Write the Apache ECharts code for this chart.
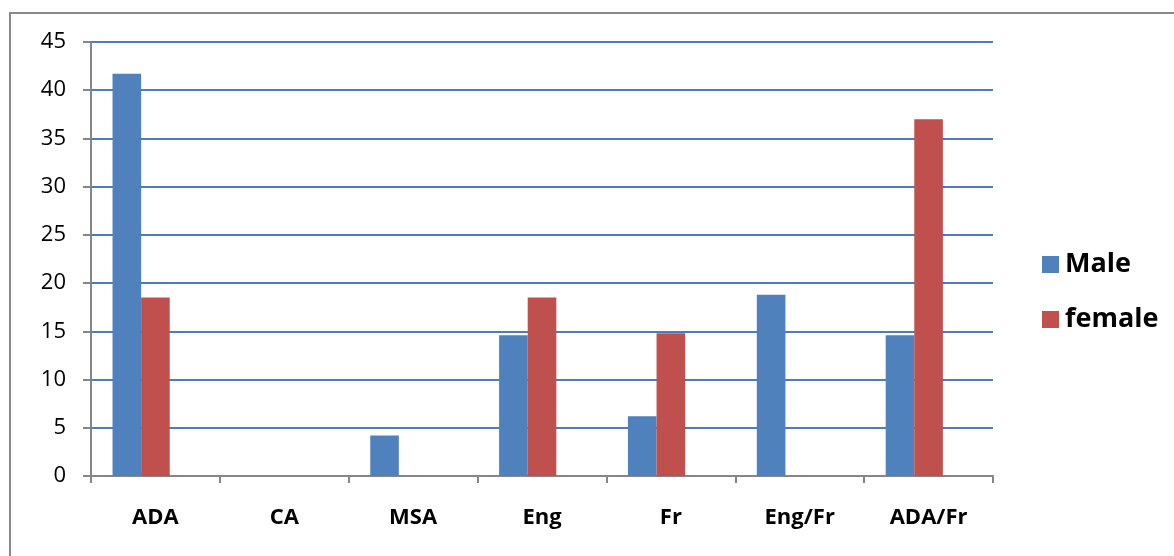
<!DOCTYPE html>
<html>
<head>
<meta charset="utf-8">
<script src="https://cdn.jsdelivr.net/npm/echarts@6/dist/echarts.min.js"></script>
<style>
  html, body { margin: 0; padding: 0; background: #fff; }
  #chart { width: 1174px; height: 556px; }
</style>
</head>
<body>
<div id="chart"></div>
<script>
// Language groups and percentage per gender
const categories = ['ADA', 'CA', 'MSA', 'Eng', 'Fr', 'Eng/Fr', 'ADA/Fr'];
const maleValues = [41.7, 0, 4.2, 14.6, 6.2, 18.8, 14.6];
const femaleValues = [18.5, 0, 0, 18.5, 14.8, 0, 37.0];
// third slot in each group is left empty
const emptySlot = [null, null, null, null, null, null, null];
const yTicks = [0, 5, 10, 15, 20, 25, 30, 35, 40, 45];

const FONT = '"Open Sans", Lato, "Liberation Sans", sans-serif';
const BAR_W = 28.6;

const chart = echarts.init(document.getElementById('chart'), null, { renderer: 'canvas' });

chart.setOption({
  animation: false,
  backgroundColor: '#ffffff',
  graphic: [{
    type: 'rect',
    shape: { x: 10, y: 13, width: 1200, height: 600 },
    style: { fill: 'none', stroke: '#8a8a8a', lineWidth: 2 },
    z: -1
  }],
  grid: { left: 91, right: 181, top: 42, bottom: 80, containLabel: false },
  legend: {
    data: ['Male', 'female'],
    orient: 'vertical',
    left: 1037,
    top: 246,
    icon: 'rect',
    itemWidth: 17,
    itemHeight: 17,
    itemGap: 28,
    textStyle: {
      fontFamily: FONT,
      fontSize: 27,
      fontWeight: 'bold',
      color: '#000',
      lineHeight: 27,
      padding: [0, 0, 0, 1]
    }
  },
  xAxis: {
    type: 'category',
    data: categories,
    boundaryGap: true,
    axisLine: { show: true, lineStyle: { color: '#868686', width: 2 } },
    axisTick: { show: true, inside: false, length: 7, alignWithLabel: false, lineStyle: { color: '#868686', width: 2 } },
    axisLabel: {
      margin: 31,
      fontFamily: FONT,
      fontSize: 22,
      fontWeight: 'bold',
      color: '#000',
      interval: 0
    },
    splitLine: { show: false }
  },
  yAxis: {
    type: 'value',
    min: yTicks[0],
    max: yTicks[yTicks.length - 1],
    interval: 5,
    axisLine: { show: true, lineStyle: { color: '#868686', width: 2 } },
    axisTick: { show: true, inside: false, length: 8, lineStyle: { color: '#868686', width: 2 } },
    axisLabel: {
      margin: 25,
      fontFamily: FONT,
      fontSize: 22,
      color: '#000'
    },
    splitLine: { show: true, lineStyle: { color: '#4a7ebb', width: 1.8 } }
  },
  series: [
    {
      name: 'Male',
      type: 'bar',
      data: maleValues,
      barWidth: BAR_W,
      barGap: '0%',
      itemStyle: { color: '#4f81bd' }
    },
    {
      name: 'female',
      type: 'bar',
      data: femaleValues,
      barWidth: BAR_W,
      barGap: '0%',
      itemStyle: { color: '#c0504d' }
    },
    {
      name: '',
      type: 'bar',
      data: emptySlot,
      barWidth: BAR_W,
      barGap: '0%',
      itemStyle: { color: 'transparent' }
    }
  ]
});
</script>
</body>
</html>
